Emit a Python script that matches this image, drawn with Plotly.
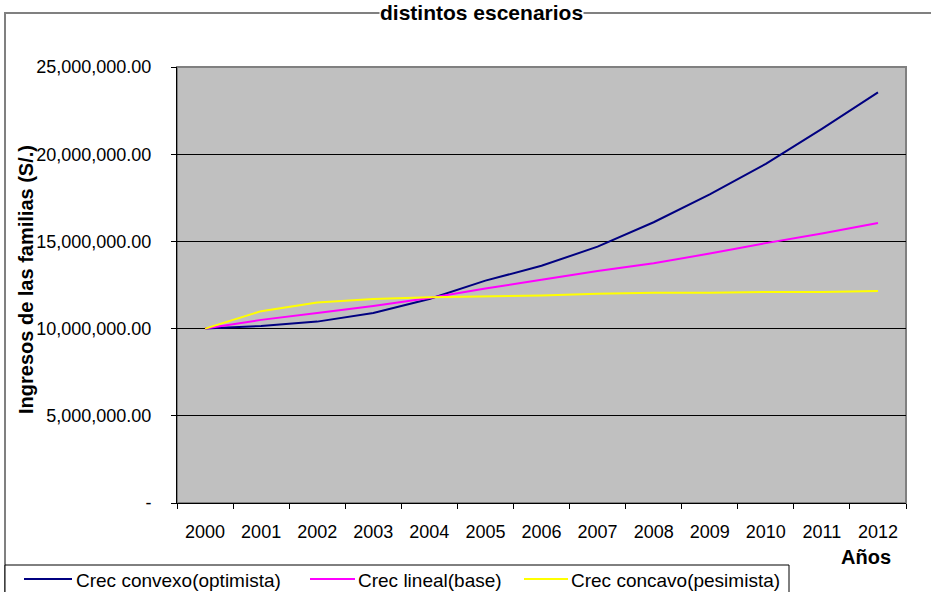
import plotly.graph_objects as go

years = ["2000", "2001", "2002", "2003", "2004", "2005", "2006",
         "2007", "2008", "2009", "2010", "2011", "2012"]
convexo = [10.0e6, 10.15e6, 10.4e6, 10.9e6, 11.7e6, 12.75e6, 13.6e6,
           14.7e6, 16.1e6, 17.7e6, 19.45e6, 21.45e6, 23.55e6]
lineal = [10.0e6, 10.5e6, 10.9e6, 11.3e6, 11.75e6, 12.3e6, 12.8e6,
          13.3e6, 13.75e6, 14.3e6, 14.9e6, 15.45e6, 16.05e6]
concavo = [10.0e6, 11.0e6, 11.5e6, 11.7e6, 11.8e6, 11.85e6, 11.9e6,
           12.0e6, 12.05e6, 12.05e6, 12.1e6, 12.1e6, 12.15e6]
names = ["Crec convexo(optimista)", "Crec lineal(base)", "Crec concavo(pesimista)"]
colors = ["#000080", "#FF00FF", "#FFFF00"]
ytick_vals = [0, 5e6, 10e6, 15e6, 20e6, 25e6]
ytick_text = ["-", "5,000,000.00", "10,000,000.00", "15,000,000.00",
              "20,000,000.00", "25,000,000.00"]

FONT = "Arial, Liberation Sans, sans-serif"

fig = go.Figure()
for name, vals, col in zip(names, [convexo, lineal, concavo], colors):
    fig.add_trace(go.Scatter(x=years, y=vals, name=name, mode="lines",
                             line=dict(color=col, width=2), showlegend=False))

W, H = 931, 592
PL, PR, PT, PB = 177, 906, 67, 503          # plot area in screen pixels
L, R, T, B = PL, W - PR, PT, H - PB
pw, ph = W - L - R, H - T - B

def px(xs):
    return (xs - L) / pw

def py(ys):
    return (H - B - ys) / ph

shapes = [
    dict(type="rect", xref="paper", yref="paper", x0=0, x1=1, y0=0, y1=1,
         line=dict(color="#808080", width=2), layer="below"),
    dict(type="rect", xref="paper", yref="paper", x0=px(5), x1=px(960),
         y0=py(620), y1=py(13), line=dict(color="#808080", width=2),
         layer="below"),
    # legend box
    dict(type="rect", xref="paper", yref="paper", x0=px(5), x1=px(789),
         y0=py(600), y1=py(565), line=dict(color="black", width=1),
         fillcolor="white", layer="above"),
]
annotations = [
    dict(text="<b>distintos escenarios</b>", xref="paper", yref="paper",
         x=px(481), y=py(0), xanchor="center", yanchor="top",
         showarrow=False, font=dict(size=21, family=FONT),
         bgcolor="white", borderpad=0),
    dict(text="<b>Ingresos de las familias (S/.)</b>", xref="paper", yref="paper",
         x=px(26), y=py(280), xanchor="center", yanchor="middle", textangle=-90,
         showarrow=False, font=dict(size=20, family=FONT)),
    dict(text="<b>Años</b>", xref="paper", yref="paper",
         x=px(893), y=py(557), xanchor="right", yanchor="middle",
         showarrow=False, font=dict(size=20, family=FONT)),
]
# legend entries (line sample + label)
leg_line_x = [(24, 72), (310, 355), (524, 568)]
leg_text_x = [75, 357, 570]
for name, col, (a, b), tx in zip(names, colors, leg_line_x, leg_text_x):
    shapes.append(dict(type="line", xref="paper", yref="paper",
                       x0=px(a), x1=px(b), y0=py(579), y1=py(579),
                       line=dict(color=col, width=2), layer="above"))
    annotations.append(dict(text=name, xref="paper", yref="paper",
                            x=px(tx), y=py(580), xanchor="left", yanchor="middle",
                            showarrow=False, font=dict(size=19, family=FONT),
                            borderpad=0))

fig.update_layout(
    width=W, height=H,
    margin=dict(l=L, r=R, t=T, b=B, autoexpand=False),
    paper_bgcolor="white",
    plot_bgcolor="#C0C0C0",
    font=dict(family=FONT, size=18, color="black"),
    xaxis=dict(type="category", range=[-0.5, 12.5], showgrid=False,
               ticks="outside", ticklen=5, tickcolor="black", tickson="boundaries",
               showline=True, linecolor="black", linewidth=1,
               tickfont=dict(size=18), ticklabelstandoff=12),
    yaxis=dict(range=[0, 25e6], tickvals=ytick_vals, ticktext=ytick_text,
               showgrid=True, gridcolor="black", gridwidth=1,
               ticks="outside", ticklen=5, tickcolor="black",
               showline=True, linecolor="black", linewidth=1,
               zeroline=False, tickfont=dict(size=18), ticklabelstandoff=16),
    shapes=shapes,
    annotations=annotations,
)

fig.write_html("out.html", config={"displayModeBar": False},
               post_script="document.body.style.margin='0px';")
